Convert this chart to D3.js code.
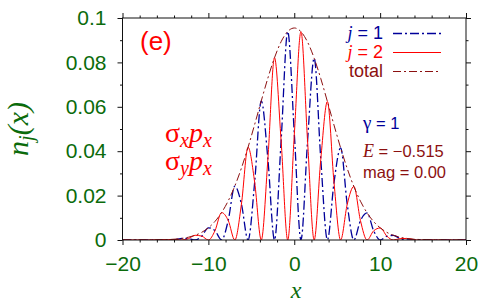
<!DOCTYPE html>
<html><head><meta charset="utf-8">
<script src="https://cdn.jsdelivr.net/npm/d3@7/dist/d3.min.js"></script>
<style>body{margin:0;background:#fff}svg{display:block}</style>
</head><body><svg id="c" width="481" height="305"></svg>
<script>
// ---- data ----
const xs = [-20, -17, -14.62, -13.85, -13.08, -12.31, -11.54, -10.77, -10.00, -9.23, -8.46, -7.69, -6.92, -6.15, -5.38, -4.61, -3.84, -3.07, -2.30, -1.53, -0.76, 0.01, 0.78, 1.55, 2.32, 3.09, 3.86, 4.63, 5.40, 6.17, 6.94, 7.71, 8.48, 9.25, 10.02, 10.79, 11.56, 12.33, 13.10, 13.87, 14.64, 15.41, 17.5, 20];
const j1 = [0, 0.00001, 0, 0.00020, 0.00072, 0.00063, 0, 0.00173, 0.00549, 0.00418, 0, 0.00881, 0.02431, 0.01620, 0, 0.02602, 0.06267, 0.03647, 0, 0.04466, 0.09393, 0.04775, 0, 0.04458, 0.08188, 0.03635, 0, 0.02588, 0.04151, 0.01609, 0, 0.00874, 0.01223, 0.00414, 0, 0.00171, 0.00210, 0.00062, 0, 0.00019, 0.00021, 0.00005, 0.00001, 0];
const j2 = [0, 0.00001, 0.00021, 0.00020, 0, 0.00063, 0.00213, 0.00174, 0, 0.00419, 0.01236, 0.00882, 0, 0.01620, 0.04177, 0.02603, 0, 0.03648, 0.08210, 0.04466, 0, 0.04775, 0.09385, 0.04459, 0, 0.03635, 0.06239, 0.02588, 0, 0.01609, 0.02412, 0.00874, 0, 0.00414, 0.00542, 0.00172, 0, 0.00062, 0.00071, 0.00020, 0, 0.00006, 0.00001, 0];
const total = [0, 0.00002, 0.00021, 0.00040, 0.00072, 0.00126, 0.00213, 0.00347, 0.00549, 0.00837, 0.01236, 0.01763, 0.02431, 0.03240, 0.04177, 0.05205, 0.06267, 0.07295, 0.08210, 0.08932, 0.09393, 0.09550, 0.09385, 0.08917, 0.08188, 0.07270, 0.06239, 0.05176, 0.04151, 0.03218, 0.02412, 0.01748, 0.01223, 0.00828, 0.00542, 0.00343, 0.00210, 0.00124, 0.00071, 0.00039, 0.00021, 0.00011, 0.00002, 0];
const xTicks = [-20, -10, 0, 10, 20];
const xTickLabels = ["\u221220", "\u221210", "0", "10", "20"];
const yTicks = [0, 0.02, 0.04, 0.06, 0.08, 0.1];
const yTickLabels = ["0", "0.02", "0.04", "0.06", "0.08", "0.1"];
const xMinorTicks = [-18, -16, -14, -12, -8, -6, -4, -2, 2, 4, 6, 8, 12, 14, 16, 18];
const yMinorTicks = [0.01, 0.03, 0.05, 0.07, 0.09];
const seriesNames = ["j1", "j2", "total"];

// ---- styling ----
const green = "#0b6b0b", navy = "#00009a", red = "#ff0000", dred = "#8c1010";
const L = 122.5, R = 466, T = 18, B = 240;
const svg = d3.select("#c");
const x = d3.scaleLinear().domain([-20, 20]).range([L, R]);
const y = d3.scaleLinear().domain([0, 0.1]).range([B, T]);
const sans = "Liberation Sans, Arial, sans-serif", serif = "Liberation Serif, Times New Roman, serif";

svg.append("defs").append("clipPath").attr("id", "clip")
  .append("rect").attr("x", L).attr("y", T - 1).attr("width", R - L).attr("height", B - T + 1);

function styleAxis(g) {
  g.select(".domain").remove();
  g.selectAll("line").attr("stroke", "#111").attr("stroke-width", 1);
}
// major / minor ticks (outward, mirrored)
svg.append("g").attr("transform", `translate(0,${B})`)
  .call(d3.axisBottom(x).tickValues(xTicks).tickSize(5).tickPadding(11).tickFormat((d, i) => xTickLabels[i]))
  .call(styleAxis)
  .call(g => g.selectAll("text").attr("fill", green).attr("font-family", sans).attr("font-size", 21));
svg.append("g").attr("transform", `translate(0,${B})`)
  .call(d3.axisBottom(x).tickValues(xMinorTicks).tickSize(2.5).tickFormat("")).call(styleAxis);
svg.append("g").attr("transform", `translate(0,${T})`)
  .call(d3.axisTop(x).tickValues(xTicks).tickSize(5).tickFormat("")).call(styleAxis);
svg.append("g").attr("transform", `translate(0,${T})`)
  .call(d3.axisTop(x).tickValues(xMinorTicks).tickSize(2.5).tickFormat("")).call(styleAxis);
svg.append("g").attr("transform", `translate(${L},0)`)
  .call(d3.axisLeft(y).tickValues(yTicks).tickSize(5).tickPadding(11).tickFormat((d, i) => yTickLabels[i]))
  .call(styleAxis)
  .call(g => g.selectAll("text").attr("fill", green).attr("font-family", sans).attr("font-size", 21));
svg.append("g").attr("transform", `translate(${L},0)`)
  .call(d3.axisLeft(y).tickValues(yMinorTicks).tickSize(2.5).tickFormat("")).call(styleAxis);
svg.append("g").attr("transform", `translate(${R},0)`)
  .call(d3.axisRight(y).tickValues(yTicks).tickSize(5).tickFormat("")).call(styleAxis);
svg.append("g").attr("transform", `translate(${R},0)`)
  .call(d3.axisRight(y).tickValues(yMinorTicks).tickSize(2.5).tickFormat("")).call(styleAxis);

// curves
const mk = vals => xs.map((xv, i) => [xv, vals[i]]);
const line = d3.line().x(d => x(d[0])).y(d => y(d[1])).curve(d3.curveMonotoneX);
const plot = svg.append("g").attr("clip-path", "url(#clip)");
const styles = {
  j1: {data: j1, color: navy, w: 1.3, dash: "9,3,2,3"},
  j2: {data: j2, color: red, w: 1.0, dash: null},
  total: {data: total, color: dred, w: 1.0, dash: "8,3,2,3"}
};
seriesNames.forEach(n => {
  const s = styles[n];
  plot.append("path").datum(mk(s.data)).attr("d", line)
    .attr("fill", "none").attr("stroke", s.color).attr("stroke-width", s.w)
    .attr("stroke-dasharray", s.dash);
});

// frame
svg.append("rect").attr("x", L).attr("y", T).attr("width", R - L).attr("height", B - T)
  .attr("fill", "none").attr("stroke", "#111").attr("stroke-width", 1);

// axis titles
svg.append("text").attr("x", 296).attr("y", 298).attr("text-anchor", "middle")
  .attr("font-family", serif).attr("font-style", "italic").attr("font-size", 24).attr("fill", green).text("x");
const yt = svg.append("text").attr("transform", "translate(28,129) rotate(-90)").attr("text-anchor", "middle")
  .attr("font-family", serif).attr("font-style", "italic").attr("font-size", 30).attr("fill", green);
yt.append("tspan").text("n");
yt.append("tspan").attr("font-size", 20).attr("dy", 5).text("j");
yt.append("tspan").attr("dy", -5).text("(x)");

// legend
const legend = [
  {name: "j1", label: "1", color: navy, baseline: 39},
  {name: "j2", label: "2", color: red, baseline: 58},
  {name: "total", label: null, color: dred, baseline: 77}
];
legend.forEach(d => {
  const s = styles[d.name];
  const t = svg.append("text").attr("x", 383).attr("y", d.baseline).attr("text-anchor", "end")
    .attr("font-size", 18).attr("fill", d.color).attr("font-family", sans);
  if (d.label) {
    t.append("tspan").attr("font-family", serif).attr("font-style", "italic").text("j");
    t.append("tspan").text(" = " + d.label);
  } else t.text("total");
  svg.append("line").attr("x1", 393).attr("x2", 441).attr("y1", d.baseline - 5.5).attr("y2", d.baseline - 5.5)
    .attr("stroke", s.color).attr("stroke-width", s.w).attr("stroke-dasharray", s.dash);
});

// annotations
svg.append("text").attr("x", 140).attr("y", 50).attr("font-family", sans).attr("font-size", 26)
  .attr("fill", red).text("(e)");
function sigma(yb, sub) {
  const t = svg.append("text").attr("x", 165).attr("y", yb).attr("font-family", serif)
    .attr("font-size", 28).attr("fill", red);
  t.append("tspan").text("\u03c3");
  t.append("tspan").attr("font-style", "italic").attr("font-size", 20).attr("dy", 5).text(sub);
  t.append("tspan").attr("font-style", "italic").attr("dy", -5).text("p");
  t.append("tspan").attr("font-style", "italic").attr("font-size", 20).attr("dy", 5).text("x");
}
sigma(141.5, "x");
sigma(170, "y");
const gt = svg.append("text").attr("x", 363).attr("y", 128.5).attr("font-family", sans).attr("font-size", 16.5)
  .attr("fill", navy);
gt.append("tspan").attr("font-family", serif).attr("font-size", 19).text("\u03b3");
gt.append("tspan").text(" = 1");
const et = svg.append("text").attr("x", 363).attr("y", 156.7).attr("font-family", sans).attr("font-size", 16.5).attr("fill", dred);
et.append("tspan").attr("font-family", serif).attr("font-style", "italic").attr("font-size", 18).text("E");
et.append("tspan").text(" = \u22120.515");
svg.append("text").attr("x", 363).attr("y", 178).attr("font-family", sans).attr("font-size", 16.5)
  .attr("fill", dred).text("mag = 0.00");
</script></body></html>
